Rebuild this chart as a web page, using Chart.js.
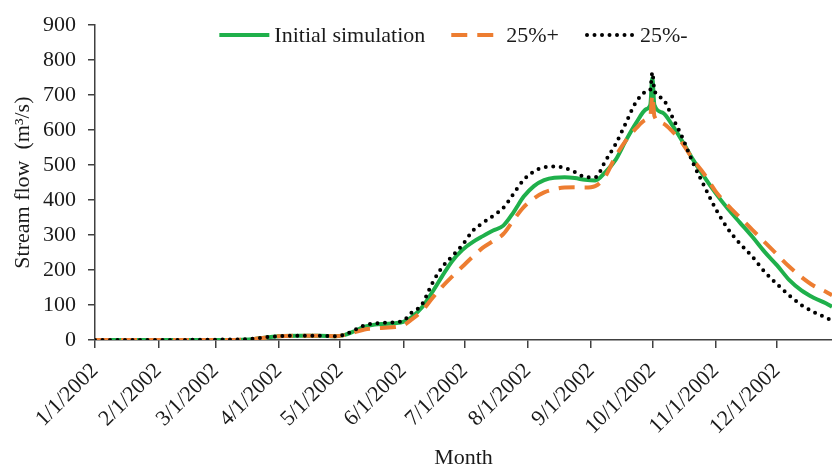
<!DOCTYPE html>
<html><head><meta charset="utf-8">
<style>html,body{margin:0;padding:0;background:#fff;}canvas{display:block;}</style>
<script src="https://cdn.jsdelivr.net/npm/chart.js@4.4.1/dist/chart.umd.min.js"></script>
</head><body>
<canvas id="c" width="832" height="472"></canvas>
<script>
// Month tick positions (day of year, Jan 1 = 0) and labels
const monthDays = [0, 31, 59, 90, 120, 151, 181, 212, 243, 273, 304, 334];
const monthLabels = ['1/1/2002','2/1/2002','3/1/2002','4/1/2002','5/1/2002','6/1/2002','7/1/2002','8/1/2002','9/1/2002','10/1/2002','11/1/2002','12/1/2002'];

// Sample days (day of year)
const days = [0, 30, 60, 72, 78, 84, 90, 100, 110, 118, 122, 127, 132, 137, 142, 147, 151, 155, 160, 165, 170, 175, 180, 185, 190, 195, 200, 205, 210, 215, 220, 225, 230, 235, 240, 245, 250, 255, 260, 265, 270, 272, 273, 274, 278, 283, 288, 293, 298, 304, 310, 316, 322, 328, 334, 340, 346, 352, 358, 361];

// Stream flow (m3/s)
const initialSim = [0, 0, 0, 1, 3, 7, 11, 12, 12, 11, 14, 25, 38, 44, 46, 48, 52, 65, 92, 135, 182, 226, 258, 280, 297, 313, 327, 365, 410, 440, 457, 464, 465, 463, 458, 456, 480, 515, 570, 620, 660, 672, 750, 672, 650, 612, 565, 515, 470, 420, 375, 335, 295, 252, 214, 172, 142, 121, 105, 95];
const plus25 = [0, 0, 0, 1, 3, 7, 11, 12, 12, 11, 14, 22, 30, 33, 35, 37, 42, 58, 82, 118, 152, 182, 210, 238, 264, 283, 303, 343, 380, 405, 422, 431, 436, 437, 436, 440, 468, 525, 570, 605, 630, 638, 700, 640, 620, 595, 560, 515, 478, 425, 385, 350, 315, 280, 245, 210, 180, 155, 138, 128];
const minus25 = [0, 0, 1, 2, 4, 8, 11, 12, 12, 11, 15, 28, 42, 47, 49, 51, 55, 78, 100, 160, 208, 240, 272, 312, 335, 355, 378, 418, 458, 482, 494, 496, 492, 480, 466, 465, 512, 560, 620, 680, 710, 716, 765, 714, 690, 635, 575, 505, 445, 375, 318, 275, 238, 195, 160, 128, 100, 80, 64, 56];

const seriesNames = ['Initial simulation', '25%+', '25%-'];
const yTitle = 'Stream flow  (m\u00B3/s)';
const xTitle = 'Month';

const FONT = '"Liberation Serif", "Times New Roman", serif';
const toXY = arr => arr.map((v, i) => ({x: days[i], y: v}));

const legendInside = {
  id: 'legendInside',
  afterDraw(chart) {
    const ctx = chart.ctx;
    const ca = chart.chartArea;
    ctx.save();
    ctx.font = '22px ' + FONT;
    const sample = 50, gapText = 5, gapItem = 26;
    const items = chart.data.datasets.map(ds => ({ds, w: sample + gapText + ctx.measureText(ds.label).width}));
    const total = items.reduce((s, it) => s + it.w, 0) + gapItem * (items.length - 1);
    let x = (ca.left + ca.right) / 2 - 10 - total / 2;
    const y = 35;
    items.forEach(it => {
      const ds = it.ds;
      ctx.beginPath();
      ctx.strokeStyle = ds.borderColor;
      ctx.lineWidth = ds.borderWidth;
      ctx.lineCap = ds.borderCapStyle || 'butt';
      ctx.setLineDash(ds.borderDash || []);
      const inset = ds.borderCapStyle === 'round' ? 2 : 0;
      ctx.moveTo(x + inset, y);
      ctx.lineTo(x + sample - inset, y);
      ctx.stroke();
      ctx.setLineDash([]);
      ctx.fillStyle = '#1a1a1a';
      ctx.textBaseline = 'middle';
      ctx.textAlign = 'left';
      ctx.fillText(ds.label, x + sample + gapText, y + 1);
      x += it.w + gapItem;
    });
    ctx.restore();
  }
};

new Chart(document.getElementById('c'), {
  type: 'line',
  data: {
    datasets: [
      {label: seriesNames[0], data: toXY(initialSim), borderColor: '#1fb04b', borderWidth: 4, pointRadius: 0, cubicInterpolationMode: 'monotone', order: 2},
      {label: seriesNames[1], data: toXY(plus25), borderColor: '#ed7d31', borderWidth: 4, borderDash: [16, 10], pointRadius: 0, cubicInterpolationMode: 'monotone', order: 1},
      {label: seriesNames[2], data: toXY(minus25), borderColor: '#000000', borderWidth: 4, borderDash: [0, 7.5], borderCapStyle: 'round', pointRadius: 0, cubicInterpolationMode: 'monotone', order: 0}
    ]
  },
  options: {
    responsive: false,
    animation: false,
    events: [],
    layout: {padding: {top: 16, right: 0, bottom: 0, left: 0}},
    plugins: {legend: {display: false}, tooltip: {enabled: false}},
    scales: {
      x: {
        type: 'linear',
        min: 0,
        max: 361,
        afterBuildTicks: axis => { axis.ticks = monthDays.map(v => ({value: v})); },
        afterFit: axis => { axis.height = 132; },
        grid: {drawOnChartArea: false, drawTicks: true, tickLength: 8, color: '#404040', lineWidth: 1.5},
        border: {display: true, color: '#404040', width: 1.5},
        ticks: {
          autoSkip: false, minRotation: 45, maxRotation: 45, padding: 10,
          color: '#1a1a1a', font: {family: FONT, size: 22},
          callback: v => { const i = monthDays.indexOf(v); return i >= 0 ? monthLabels[i] : ''; }
        },
        title: {display: true, text: xTitle, color: '#1a1a1a', font: {family: FONT, size: 22}, padding: {top: 0, bottom: 1}}
      },
      y: {
        min: 0, max: 900,
        afterFit: axis => { axis.width = 95; },
        grid: {drawOnChartArea: false, drawTicks: true, tickLength: 7, color: '#404040', lineWidth: 1.5},
        border: {display: true, color: '#404040', width: 1.5},
        ticks: {stepSize: 100, padding: 12, color: '#1a1a1a', font: {family: FONT, size: 22}},
        title: {display: true, text: yTitle, color: '#1a1a1a', font: {family: FONT, size: 22}, padding: {top: 10, bottom: 0}}
      }
    }
  },
  plugins: [legendInside]
});
</script>
</body></html>
